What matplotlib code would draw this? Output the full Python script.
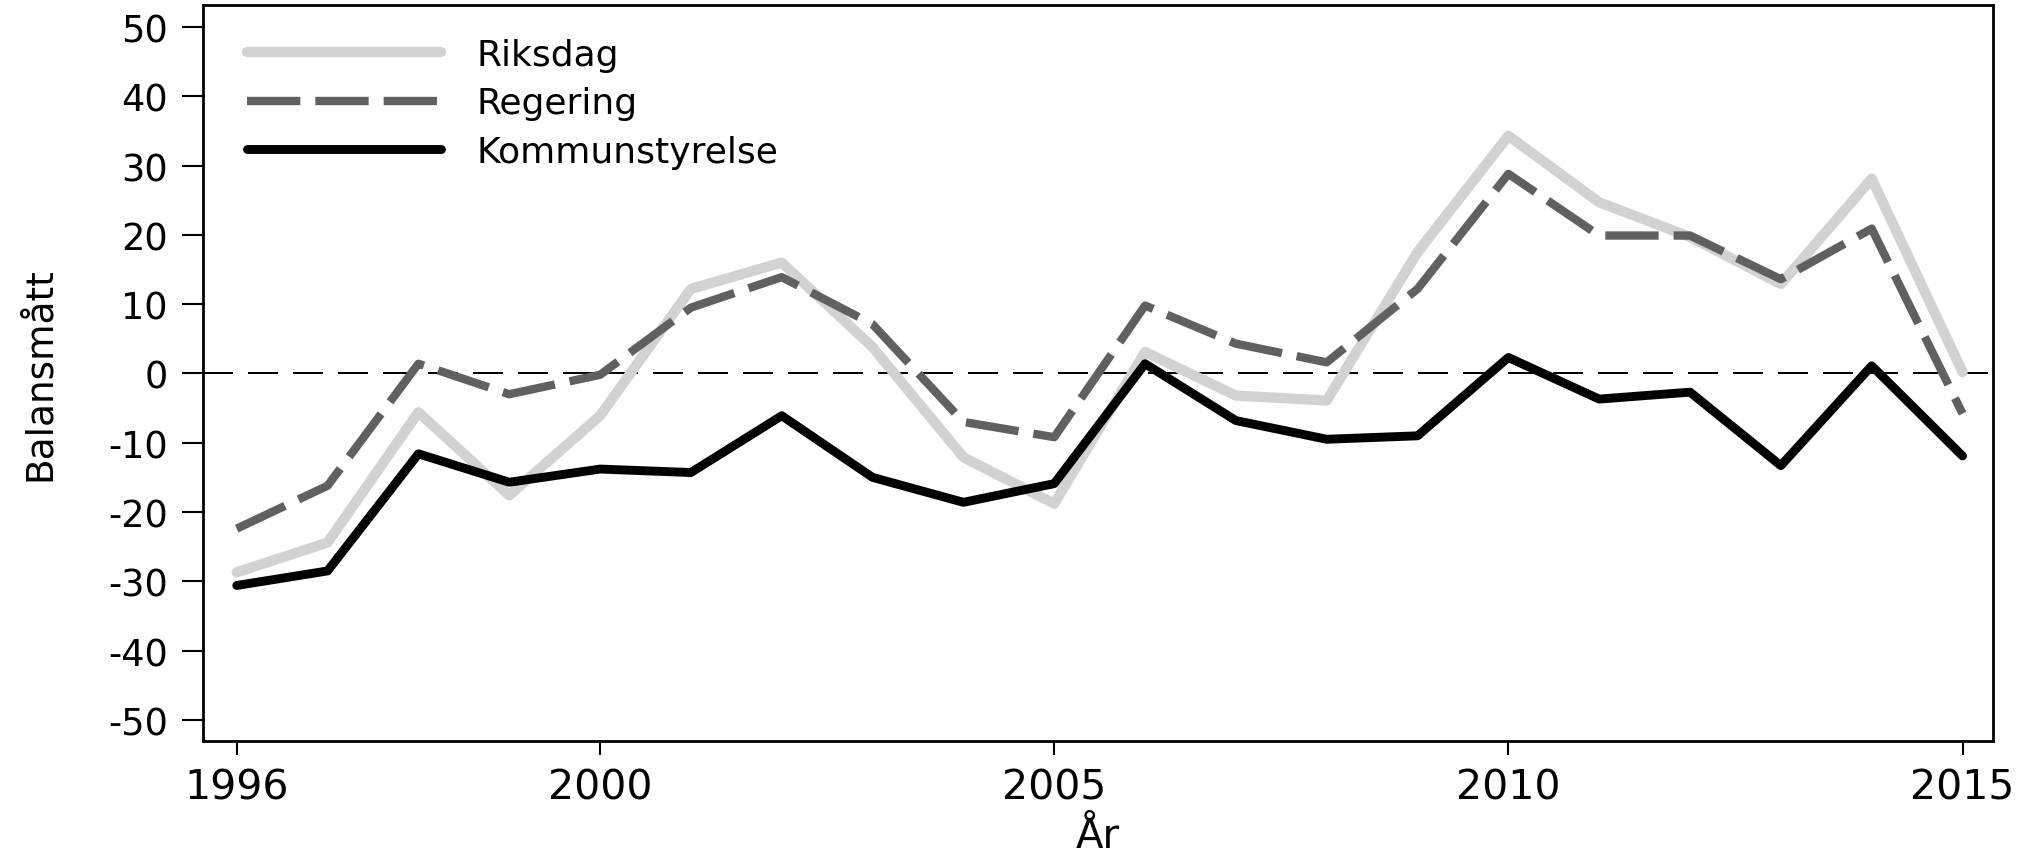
import matplotlib
matplotlib.use("Agg")
import matplotlib.pyplot as plt
import numpy as np

plt.rcParams["axes.unicode_minus"] = False

# data
years = list(range(1996, 2016))
riksdag = [-28.7, -24.4, -5.6, -17.6, -6.1, 12.2, 16.0, 3.8, -12.1, -18.8,
           3.1, -3.2, -3.9, 17.5, 34.3, 24.7, 19.7, 12.9, 28.1, 0.2]
regering = [-22.4, -16.2, 1.4, -3.0, -0.2, 9.5, 13.9, 7.1, -7.0, -9.2,
            9.8, 4.3, 1.6, 12.2, 28.8, 19.9, 19.9, 13.6, 20.9, -5.8]
kommun = [-30.6, -28.5, -11.6, -15.7, -13.8, -14.3, -6.1, -15.0, -18.6, -15.9,
          1.4, -6.8, -9.5, -9.0, 2.3, -3.7, -2.7, -13.3, 1.1, -11.9]
series_names = ["Riksdag", "Regering", "Kommunstyrelse"]
xticks = [1996, 2000, 2005, 2010, 2015]
yticks = list(range(-50, 51, 10))

fig = plt.figure(figsize=(20.36, 8.54), dpi=100)
ax = fig.add_axes([0.0996, 0.1315, 0.8793, 0.8609])

ax.axhline(0, color="black", lw=1.44, dashes=(15, 7.5), zorder=1)

ax.plot(years, riksdag, color="#d2d2d2", lw=7.4, label=series_names[0],
        solid_joinstyle="round", solid_capstyle="round", zorder=2)
ax.plot(years, regering, color="#606060", lw=6.0, label=series_names[1],
        dashes=(6.4, 1.8), dash_capstyle="butt", zorder=3)
ax.plot(years, kommun, color="black", lw=6.4, label=series_names[2],
        solid_joinstyle="round", solid_capstyle="round", zorder=4)

ax.set_xlim(1995.626, 2015.336)
ax.set_ylim(-53.0, 53.1)
ax.set_xticks(xticks)
ax.set_yticks(yticks)
ax.tick_params(axis="y", labelsize=26.5, length=15, width=1.5, pad=10)
ax.tick_params(axis="x", labelsize=29.5, length=10, width=1.5, pad=9)
for s in ax.spines.values():
    s.set_linewidth(2.0)

ax.set_ylabel("Balansmått", fontsize=27,
              family=["Liberation Sans Narrow", "DejaVu Sans Condensed", "DejaVu Sans"])
ax.yaxis.set_label_coords(-0.081, 0.5)
ax.set_xlabel("År", fontsize=29)
ax.xaxis.set_label_coords(0.5, -0.103)

ax.legend(loc="upper left", bbox_to_anchor=(0.1213, 0.9543), bbox_transform=fig.transFigure,
          frameon=False, fontsize=26, handlelength=5.37, handletextpad=1.0,
          labelspacing=0.4, borderpad=0, borderaxespad=0)

fig.savefig("out.png", dpi=100)
